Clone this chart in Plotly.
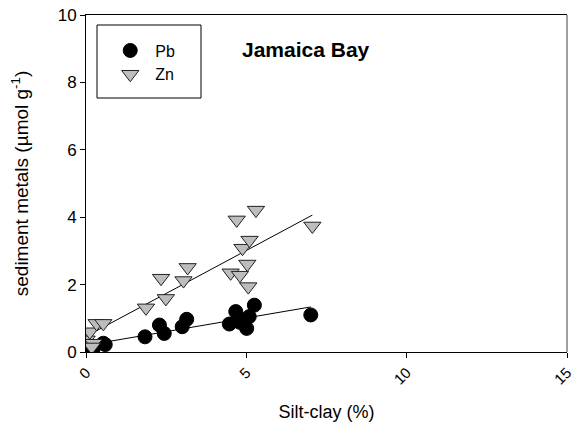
import numpy as np
import plotly.graph_objects as go

# Silt-clay content (%) and sediment metal concentrations (umol/g)
pb_silt = [0.00, 0.23, 0.54, 0.60, 1.84, 2.29, 2.44, 3.00, 3.14, 4.47, 4.67, 4.80, 4.86, 5.01, 5.09, 5.25, 7.01]
pb_conc = [0.13, 0.11, 0.26, 0.22, 0.45, 0.80, 0.55, 0.75, 0.97, 0.83, 1.20, 0.88, 0.95, 0.70, 1.05, 1.39, 1.10]

zn_silt = [0.02, 0.23, 0.12, 0.18, 0.33, 0.54, 1.87, 2.34, 2.49, 3.04, 3.17, 4.51, 4.70, 4.80, 4.88, 5.03, 5.06, 5.10, 5.30, 7.06]
zn_conc = [0.36, 0.26, 0.60, 0.15, 0.85, 0.85, 1.31, 2.19, 1.59, 2.12, 2.51, 2.35, 3.92, 2.28, 3.08, 2.61, 1.94, 3.32, 4.21, 3.74]

x_ticks = [0, 5, 10, 15]
y_ticks = [0, 2, 4, 6, 8, 10]

FONT = "Liberation Sans, Arial, sans-serif"


def fit_line(x, y):
    slope, intercept = np.polyfit(x, y, 1)
    xs = np.array([min(x), max(x)])
    return xs, slope * xs + intercept


fig = go.Figure()

for xs_data, ys_data in [(pb_silt, pb_conc), (zn_silt, zn_conc)]:
    lx, ly = fit_line(xs_data, ys_data)
    fig.add_trace(go.Scatter(x=lx, y=ly, mode="lines",
                             line=dict(color="black", width=1),
                             showlegend=False, hoverinfo="skip"))

fig.add_trace(go.Scatter(x=pb_silt, y=pb_conc, mode="markers", name="Pb",
                         marker=dict(symbol="circle", size=14, color="black",
                                     line=dict(color="black", width=1))))
fig.add_trace(go.Scatter(x=zn_silt, y=zn_conc, mode="markers", name="Zn",
                         marker=dict(symbol="triangle-down", size=15, color="#bdbdbd",
                                     line=dict(color="#222222", width=1))))

fig.update_layout(
    width=574, height=429,
    margin=dict(l=86, r=7, t=15, b=77),
    plot_bgcolor="white", paper_bgcolor="white",
    font=dict(family=FONT, size=16, color="black"),
    showlegend=True,
    legend=dict(x=0.04, y=0.945, xanchor="left", yanchor="top",
                bgcolor="rgba(0,0,0,0)", borderwidth=0,
                font=dict(family=FONT, size=16), tracegroupgap=0,
                itemwidth=40),
    shapes=[
        # legend frame
        dict(type="rect", xref="paper", yref="paper",
             x0=(97 - 86) / 481, x1=(201 - 86) / 481,
             y0=(352 - 98) / 337, y1=(352 - 25) / 337,
             line=dict(color="black", width=1), fillcolor="rgba(0,0,0,0)"),
        # right border
        dict(type="line", xref="paper", yref="paper", x0=1, x1=1, y0=0, y1=1,
             line=dict(color="#808080", width=1.5)),
    ],
    annotations=[
        dict(text="<b>Jamaica Bay</b>", xref="paper", yref="paper",
             x=(240 - 86) / 481, y=(352 - 49) / 337, xanchor="left", yanchor="middle",
             showarrow=False, font=dict(family=FONT, size=21, color="black")),
    ],
)

fig.update_xaxes(
    range=[-0.0001, 15.0001], tickvals=x_ticks, ticktext=[str(v) for v in x_ticks],
    tickangle=-45, ticks="outside", ticklen=5, tickcolor="black",
    ticklabeloverflow="allow", automargin=False,
    showline=True, linecolor="black", linewidth=1, mirror=True,
    showgrid=False, zeroline=False,
    tickfont=dict(family=FONT, size=15),
    title=dict(text="Silt-clay (%)", font=dict(family=FONT, size=18), standoff=18),
)
fig.update_yaxes(
    range=[0, 10], tickvals=y_ticks, ticktext=[str(v) for v in y_ticks],
    ticks="outside", ticklen=5, tickcolor="black",
    automargin=False,
    showline=True, linecolor="black", linewidth=1,
    showgrid=False, zeroline=False,
    tickfont=dict(family=FONT, size=17),
    title=dict(text="sediment metals (µmol g<sup>-1</sup>)", font=dict(family=FONT, size=19), standoff=24),
)

fig.write_html("out.html")
